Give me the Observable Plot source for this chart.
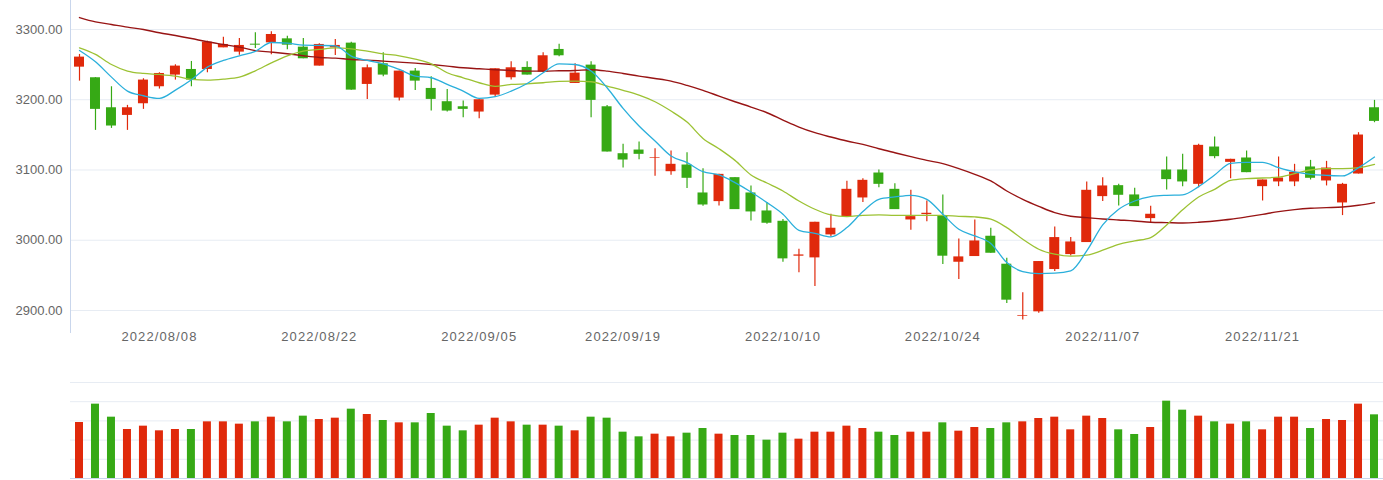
<!DOCTYPE html>
<html>
<head>
<meta charset="utf-8">
<script src="https://cdn.jsdelivr.net/npm/d3@7"></script>
<script src="https://cdn.jsdelivr.net/npm/@observablehq/plot@0.6"></script>
<style>
  html, body { margin: 0; padding: 0; background: #ffffff; }
  #chart { width: 1383px; height: 480px; overflow: hidden; }
  #chart svg { display: block; }
  #chart g[aria-label="x-axis tick label"] { letter-spacing: 1.1px; }
</style>
</head>
<body>
<div id="chart"></div>
<script>
// ---- data ----
const dates = [
  "2022-08-01","2022-08-02","2022-08-03","2022-08-04","2022-08-05","2022-08-08","2022-08-09","2022-08-10","2022-08-11","2022-08-12",
  "2022-08-15","2022-08-16","2022-08-17","2022-08-18","2022-08-19","2022-08-22","2022-08-23","2022-08-24","2022-08-25","2022-08-26",
  "2022-08-29","2022-08-30","2022-08-31","2022-09-01","2022-09-02","2022-09-05","2022-09-06","2022-09-07","2022-09-08","2022-09-09",
  "2022-09-13","2022-09-14","2022-09-15","2022-09-16","2022-09-19","2022-09-20","2022-09-21","2022-09-22","2022-09-23","2022-09-26",
  "2022-09-27","2022-09-28","2022-09-29","2022-09-30","2022-10-10","2022-10-11","2022-10-12","2022-10-13","2022-10-14","2022-10-17",
  "2022-10-18","2022-10-19","2022-10-20","2022-10-21","2022-10-24","2022-10-25","2022-10-26","2022-10-27","2022-10-28","2022-10-31",
  "2022-11-01","2022-11-02","2022-11-03","2022-11-04","2022-11-07","2022-11-08","2022-11-09","2022-11-10","2022-11-11","2022-11-14",
  "2022-11-15","2022-11-16","2022-11-17","2022-11-18","2022-11-21","2022-11-22","2022-11-23","2022-11-24","2022-11-25","2022-11-28",
  "2022-11-29","2022-11-30"
];

const open = [
  3246.4,3231.3,3188.6,3177.7,3194.3,3218.5,3235.1,3243.1,3243.1,3273.9,
  3267.8,3279.1,3281.0,3286.7,3274.9,3247.9,3273.9,3280.6,3221.8,3251.2,
  3202.4,3240.8,3216.1,3197.2,3190.0,3182.5,3206.6,3231.3,3246.0,3239.3,
  3271.6,3223.2,3249.3,3190.0,3123.2,3128.4,3116.6,3097.6,3107.1,3067.3,
  3055.0,3089.1,3067.3,3041.7,3027.0,2977.3,2974.9,3007.6,3033.6,3060.2,
  3095.7,3072.5,3028.9,3036.5,3034.6,2968.7,2976.8,3005.7,2965.9,2891.9,
  2898.1,2958.3,2979.6,2996.7,3062.1,3077.7,3064.5,3030.8,3100.0,3100.0,
  3079.6,3132.7,3110.9,3117.1,3076.3,3083.0,3083.0,3104.3,3084.4,3053.1,
  3094.3,3188.6
];
const high = [
  3264.5,3231.5,3218.5,3192.0,3229.9,3238.4,3249.8,3254.5,3283.4,3289.1,
  3287.2,3295.3,3296.7,3290.5,3287.2,3279.6,3285.8,3282.0,3249.3,3266.8,
  3240.8,3244.5,3232.7,3214.7,3198.1,3200.0,3244.1,3254.0,3254.0,3266.8,
  3279.1,3251.2,3254.0,3191.9,3136.5,3139.8,3130.3,3127.0,3124.6,3101.9,
  3093.8,3089.1,3077.3,3053.6,3029.4,2987.2,3025.6,3037.0,3083.9,3087.7,
  3100.0,3080.6,3071.1,3055.9,3064.5,3001.9,3028.9,3017.1,2974.4,2925.1,
  2969.7,3019.0,3003.8,3083.0,3089.1,3079.6,3074.0,3048.3,3118.5,3122.3,
  3136.5,3146.9,3115.2,3127.0,3085.8,3118.5,3108.1,3113.7,3112.3,3081.0,
  3153.1,3199.1
];
const low = [
  3226.5,3156.4,3159.2,3156.4,3186.3,3215.2,3228.0,3218.5,3238.4,3273.9,
  3263.5,3273.0,3264.0,3271.1,3258.3,3247.9,3263.0,3213.7,3200.5,3232.7,
  3198.1,3213.3,3183.9,3182.5,3174.4,3173.0,3203.8,3228.0,3235.1,3238.4,
  3261.1,3223.2,3174.4,3125.6,3102.8,3114.7,3091.0,3092.4,3073.5,3048.3,
  3048.8,3043.6,3027.5,3022.7,2968.7,2953.6,2934.1,3004.7,3033.6,3053.6,
  3074.9,3043.6,3014.2,3026.5,2965.4,2944.1,2976.8,2981.5,2910.0,2886.3,
  2896.2,2955.5,2977.7,2996.7,3055.0,3048.8,3047.9,3025.1,3071.6,3076.3,
  3074.9,3116.1,3087.7,3096.2,3055.9,3076.3,3076.3,3085.8,3077.3,3035.1,
  3094.3,3167.3
];
const close = [
  3260.7,3186.3,3162.6,3188.6,3228.0,3237.4,3247.9,3228.0,3282.0,3278.7,
  3277.3,3277.7,3292.9,3277.7,3258.3,3278.7,3277.3,3213.7,3245.5,3235.1,
  3240.8,3226.5,3200.5,3183.9,3186.3,3200.0,3244.1,3245.5,3235.1,3262.6,
  3262.6,3237.9,3199.1,3125.6,3114.2,3122.3,3117.5,3108.1,3088.2,3050.2,
  3093.8,3043.6,3040.3,3024.2,2973.5,2979.1,3025.6,3017.1,3072.5,3085.3,
  3079.6,3043.6,3033.6,3038.4,2977.3,2976.3,2999.0,2981.5,2914.7,2892.9,
  2969.7,3003.8,2997.6,3071.1,3077.3,3064.0,3047.9,3037.0,3086.3,3083.0,
  3135.1,3119.0,3115.2,3096.2,3085.8,3088.6,3096.7,3088.2,3102.8,3079.6,
  3149.8,3169.2
];
const volume = [
  2917,3872,3194,2552,2726,2483,2552,2552,2951,2951,
  2830,2951,3194,2951,3247,3073,3142,3611,3333,3021,
  2899,2899,3385,2726,2483,2778,3142,2951,2778,2778,
  2726,2483,3194,3142,2413,2170,2309,2170,2361,2604,
  2309,2240,2240,1997,2361,2049,2413,2413,2726,2604,
  2413,2240,2413,2413,2899,2465,2656,2604,2899,2951,
  3125,3194,2535,3247,3125,2535,2292,2656,4028,3559,
  3247,2951,2830,2951,2535,3194,3194,2604,3073,3021,
  3872,3316
];
const ma5 = [
  3270.1,3254.0,3232.2,3212.3,3205.7,3201.9,3213.7,3228.4,3246.4,3255.9,
  3262.6,3269.0,3281.5,3280.6,3277.7,3277.3,3276.8,3262.1,3255.9,3251.2,
  3243.1,3233.6,3231.3,3221.8,3212.3,3201.9,3204.3,3212.3,3223.2,3238.4,
  3251.2,3250.2,3240.8,3217.1,3187.7,3162.6,3141.2,3119.9,3110.4,3097.6,
  3092.9,3082.0,3068.7,3053.6,3037.0,3014.2,3009.9,3004.7,3018.0,3040.8,
  3058.3,3061.6,3064.0,3058.3,3037.0,3015.6,3006.2,2995.5,2968.2,2955.5,
  2952.6,2953.1,2956.4,2984.8,3021.8,3044.1,3055.9,3062.1,3064.0,3064.7,
  3076.3,3092.9,3109.5,3110.9,3110.9,3103.3,3097.2,3093.8,3092.4,3091.5,
  3103.3,3118.5
];
const ma10 = [
  3273.9,3264.5,3250.2,3240.8,3237.4,3236.0,3233.6,3228.9,3228.0,3229.4,
  3232.2,3241.2,3252.6,3262.6,3269.2,3271.6,3273.9,3272.5,3269.2,3265.4,
  3262.6,3257.8,3251.2,3238.4,3231.3,3224.2,3219.0,3221.8,3222.7,3224.2,
  3226.1,3226.5,3225.6,3219.4,3213.3,3206.6,3197.2,3183.9,3168.2,3145.0,
  3130.3,3113.7,3092.9,3081.5,3070.1,3055.9,3044.1,3036.0,3033.6,3035.5,
  3036.0,3035.5,3035.5,3035.5,3035.5,3034.1,3033.2,3030.0,3018.0,3001.4,
  2987.2,2980.1,2977.3,2978.7,2985.8,2994.3,2999.1,3003.8,3021.8,3043.4,
  3061.6,3072.5,3085.3,3087.7,3088.6,3090.0,3094.8,3100.0,3101.9,3101.9,
  3103.3,3108.1
];
const maSlow = [
  3317.0,3310.9,3307.1,3303.3,3300.0,3295.3,3291.5,3287.2,3282.5,3278.7,
  3274.9,3270.0,3267.8,3265.4,3262.6,3260.2,3259.2,3257.3,3256.4,3255.0,
  3253.6,3252.1,3250.2,3247.9,3245.5,3244.1,3242.7,3241.7,3240.8,3240.8,
  3241.2,3241.7,3242.7,3240.8,3237.4,3233.6,3230.3,3226.5,3220.4,3213.3,
  3205.2,3197.2,3189.6,3181.5,3171.1,3161.1,3153.1,3146.9,3141.2,3136.5,
  3130.3,3124.6,3119.0,3113.7,3109.0,3101.9,3093.8,3084.4,3070.1,3058.3,
  3048.3,3039.3,3034.1,3032.2,3030.3,3028.9,3027.5,3025.6,3025.1,3024.6,
  3025.6,3027.5,3029.9,3033.2,3036.9,3040.8,3043.6,3045.5,3046.4,3047.4,
  3049.8,3053.6
];
const priceTicks = [2900, 3000, 3100, 3200, 3300];
const volumeGrid = [1000, 2000, 3000, 4000, 5000];
const dateTicks = ["2022-08-08","2022-08-22","2022-09-05","2022-09-19","2022-10-10","2022-10-24","2022-11-07","2022-11-21"];

// ---- table built from the arrays ----
const rows = dates.map((d, i) => ({
  date: d, open: open[i], high: high[i], low: low[i], close: close[i],
  volume: volume[i], ma5: ma5[i], ma10: ma10[i], maSlow: maSlow[i]
}));
const upRows = rows.filter(d => d.close >= d.open);
const downRows = rows.filter(d => d.close < d.open);

const UP = "#e0290b";
const DOWN = "#36a915";
const GRID = "#e7ecf3";
const AXIS = "#c9d6ec";
const W = 1383;
const LEFT = 70;

const font = {fontFamily: "'Liberation Sans', Arial, sans-serif", fontSize: "13px", color: "#666666", background: "#ffffff", overflow: "visible"};

const main = Plot.plot({
  width: W, height: 345,
  marginLeft: LEFT, marginRight: 0, marginTop: 0, marginBottom: 14,
  style: font,
  x: {type: "band", domain: dates, paddingInner: 0.375, paddingOuter: 0.2504, align: 0.5, round: false},
  y: {domain: [2867.26, 3341.28], range: [333, 0]},
  marks: [
    Plot.gridY(priceTicks, {stroke: GRID, strokeOpacity: 1}),
    Plot.axisY(priceTicks, {tickSize: 0, tickPadding: 8, tickFormat: d => d.toFixed(2), label: null}),
    Plot.axisX(dateTicks, {tickSize: 0, tickPadding: 0, tickFormat: d => d.replace(/-/g, "/"), label: null}),
    Plot.ruleX(upRows, {x: "date", y1: "low", y2: "high", stroke: UP, strokeWidth: 1.2}),
    Plot.ruleX(downRows, {x: "date", y1: "low", y2: "high", stroke: DOWN, strokeWidth: 1.2}),
    Plot.barY(upRows, {x: "date", y1: "open", y2: "close", fill: UP}),
    Plot.barY(downRows, {x: "date", y1: "open", y2: "close", fill: DOWN}),
    Plot.line(rows, {x: "date", y: "maSlow", stroke: "#981414", strokeWidth: 1.4, curve: "monotone-x"}),
    Plot.line(rows, {x: "date", y: "ma10", stroke: "#9cc233", strokeWidth: 1.3, curve: "monotone-x"}),
    Plot.line(rows, {x: "date", y: "ma5", stroke: "#2aafdb", strokeWidth: 1.3, curve: "monotone-x"})
  ]
});
// left axis line of the price panel
d3.select(main).append("line")
  .attr("x1", LEFT + 0.5).attr("x2", LEFT + 0.5).attr("y1", 0).attr("y2", 333)
  .attr("stroke", AXIS).attr("stroke-width", 1);

const vol = Plot.plot({
  width: W, height: 135,
  marginLeft: LEFT, marginRight: 0, marginTop: 37, marginBottom: 2,
  style: font,
  x: {type: "band", domain: dates, paddingInner: 0.5, paddingOuter: 0.3127, align: 0.5, round: false, axis: null},
  y: {domain: [0, 5000], axis: null},
  marks: [
    Plot.gridY(volumeGrid, {stroke: GRID, strokeOpacity: 1}),
    Plot.barY(upRows, {x: "date", y: "volume", fill: UP}),
    Plot.barY(downRows, {x: "date", y: "volume", fill: DOWN}),
    Plot.ruleY([0], {stroke: AXIS, strokeWidth: 1.2})
  ]
});

const root = document.getElementById("chart");
root.appendChild(main);
root.appendChild(vol);
</script>
</body>
</html>
